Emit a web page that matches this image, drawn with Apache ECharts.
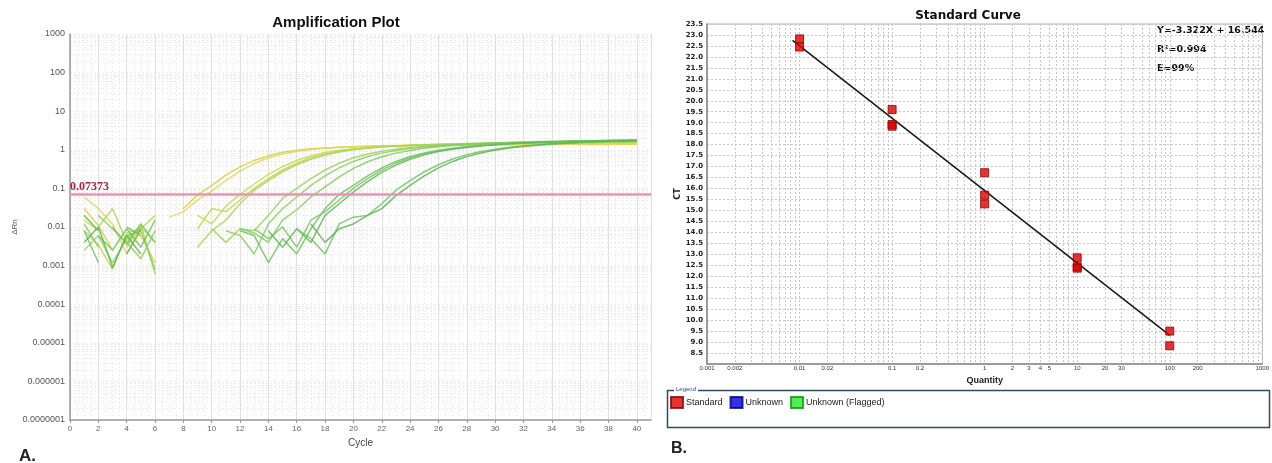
<!DOCTYPE html>
<html><head><meta charset="utf-8">
<script src="https://cdn.jsdelivr.net/npm/echarts@6/dist/echarts.min.js"></script>
<style>html,body{margin:0;padding:0;background:#fff}#c{width:1272px;height:463px}</style>
</head><body><div id="c"></div>
<script>
// ---------- Amplification plot data (cycle 1..40) ----------
const cycles = [1,2,3,4,5,6,7,8,9,10,11,12,13,14,15,16,17,18,19,20,21,22,23,24,25,26,27,28,29,30,31,32,33,34,35,36,37,38,39,40];
const ampA = [0.03,0.011,0.0025,null,0.006,0.0012,null,0.03,0.068,0.12,0.22,0.36,0.53,0.7,0.86,0.98,1.06,1.12,1.17,1.2,1.23,1.25,1.27,1.29,1.3,1.31,1.32,1.33,1.34,1.35,1.35,1.36,1.36,1.37,1.37,1.38,1.38,1.38,1.39,1.39];
const ampB = [0.06,0.03,0.012,0.002,0.008,null,0.018,0.025,0.05,0.085,0.16,0.28,0.44,0.62,0.78,0.92,1.02,1.1,1.16,1.2,1.24,1.27,1.29,1.31,1.33,1.34,1.35,1.36,1.37,1.38,1.38,1.39,1.39,1.4,1.4,1.41,1.41,1.42,1.42,1.42];
const ampC = [0.015,0.008,null,0.003,0.01,0.004,null,null,0.02,0.012,0.035,0.07,0.13,0.23,0.37,0.53,0.7,0.85,0.97,1.07,1.15,1.21,1.26,1.3,1.34,1.37,1.4,1.42,1.44,1.46,1.47,1.48,1.49,1.5,1.5,1.51,1.51,1.52,1.52,1.52];
const ampD = [0.008,0.0035,0.0008,0.007,0.009,0.02,null,null,0.009,0.03,0.025,0.05,0.1,0.18,0.3,0.45,0.62,0.78,0.92,1.03,1.12,1.2,1.26,1.31,1.35,1.38,1.41,1.43,1.45,1.47,1.48,1.49,1.5,1.51,1.52,1.52,1.53,1.53,1.54,1.54];
const ampE = [null,0.01,0.03,0.004,0.012,0.0006,null,null,0.003,0.008,0.015,0.04,0.09,0.16,0.27,0.41,0.57,0.73,0.88,1.0,1.1,1.18,1.25,1.3,1.35,1.39,1.42,1.45,1.47,1.49,1.51,1.52,1.53,1.54,1.55,1.56,1.56,1.57,1.57,1.58];
const ampF = [0.0025,0.006,0.0012,0.005,0.01,null,null,null,null,0.009,0.004,0.009,0.008,0.02,0.055,0.1,0.18,0.3,0.45,0.62,0.78,0.92,1.04,1.14,1.22,1.3,1.36,1.41,1.45,1.49,1.52,1.55,1.57,1.59,1.61,1.62,1.63,1.64,1.65,1.66];
const ampG = [null,0.02,0.009,0.004,0.0015,0.008,null,null,null,null,0.008,0.006,0.002,0.012,0.03,0.06,0.12,0.21,0.34,0.5,0.67,0.82,0.96,1.08,1.18,1.27,1.34,1.4,1.45,1.5,1.54,1.57,1.6,1.62,1.64,1.66,1.67,1.68,1.69,1.7];
const ampH = [0.012,0.003,null,0.006,0.008,0.0008,null,null,null,null,null,0.009,0.007,0.004,0.015,0.028,0.06,0.11,0.2,0.33,0.49,0.66,0.82,0.96,1.09,1.2,1.29,1.37,1.44,1.5,1.55,1.59,1.63,1.66,1.68,1.7,1.72,1.73,1.74,1.75];
const ampI = [0.008,0.0012,null,0.01,0.006,null,null,null,null,null,null,0.008,0.006,0.0012,0.005,0.002,0.009,0.03,0.07,0.12,0.21,0.34,0.5,0.67,0.83,0.98,1.1,1.21,1.3,1.38,1.45,1.51,1.56,1.6,1.64,1.67,1.7,1.72,1.74,1.76];
const ampJ = [null,null,0.01,0.0035,0.012,0.004,null,null,null,null,null,null,0.009,0.005,0.01,0.003,0.015,0.025,0.05,0.1,0.18,0.3,0.45,0.62,0.79,0.94,1.07,1.19,1.29,1.37,1.44,1.5,1.55,1.6,1.64,1.67,1.7,1.73,1.75,1.77];
const ampK = [0.02,0.008,null,0.002,0.009,null,null,null,null,null,null,null,null,0.008,0.003,0.009,0.004,0.02,0.04,0.08,0.15,0.26,0.4,0.57,0.74,0.9,1.03,1.15,1.26,1.35,1.43,1.49,1.55,1.6,1.64,1.68,1.71,1.74,1.76,1.78];
const ampL = [null,0.006,0.0025,0.009,0.003,0.015,null,null,null,null,null,null,null,null,null,0.009,0.005,0.002,0.012,0.018,0.02,0.04,0.09,0.16,0.27,0.41,0.58,0.75,0.9,1.04,1.16,1.27,1.36,1.44,1.51,1.57,1.62,1.66,1.7,1.73];
const ampM = [0.004,0.01,0.0009,0.006,0.002,null,null,null,null,null,null,null,null,null,null,null,0.012,0.004,0.009,0.012,0.02,0.03,0.065,0.12,0.21,0.34,0.5,0.67,0.83,0.98,1.11,1.22,1.32,1.41,1.48,1.55,1.61,1.66,1.7,1.74];
const threshold = 0.07373;
const deltaRnLabels = ['0.0000001','0.000001','0.00001','0.0001','0.001','0.01','0.1','1','10','100','1000'];
const deltaRnDecades = [1e-7,1e-6,1e-5,1e-4,1e-3,1e-2,1e-1,1,10,100,1000];

// ---------- Standard curve data ----------
const stdQuantity = [0.01,0.01,0.1,0.1,0.1,1,1,1,10,10,10,100,100];
const stdCt = [22.82,22.45,19.6,18.92,18.84,16.72,15.7,15.3,12.84,12.43,12.37,9.5,8.83];
const fitQuantity = [0.0084,100];
const fitCt = [22.75,9.3];
const quantityLabels = [0.001,0.002,0.01,0.02,0.1,0.2,1,2,3,4,5,10,20,30,100,200,1000];
const eqLines = ['Y=-3.322X + 16.544','R²=0.994','E=99%'];

// ---------- build ----------
const ampSets = [ampA,ampB,ampC,ampD,ampE,ampF,ampG,ampH,ampI,ampJ,ampK,ampL,ampM];
const ampColors = ['#d6d23c','#e2d558','#c8d84a','#bcd44e','#acd456','#98d45c','#8ccc5e','#80cc5a','#70c25a','#74c862','#62b856','#6cc462','#5cb452'];

function logMinor(lo, hi) {
  const out = [];
  for (let e = lo; e < hi; e++) for (let m = 1; m <= 9; m++) out.push(parseFloat((m * Math.pow(10, e)).toPrecision(3)));
  out.push(Math.pow(10, hi));
  return out;
}

const series = ampSets.map((arr, i) => ({
  type: 'line', xAxisIndex: 0, yAxisIndex: 0, showSymbol: false, symbol: 'none',
  connectNulls: false, silent: true,
  lineStyle: { width: 1.5, color: ampColors[i], opacity: 0.85 },
  data: cycles.map((c, j) => [c, arr[j]]),
  z: 3
}));
series.push({
  type: 'line', xAxisIndex: 0, yAxisIndex: 0, data: [], silent: true,
  markLine: {
    symbol: 'none', silent: true,
    lineStyle: { color: '#ee8fb6', width: 2.5, type: 'solid' },
    label: { show: true, position: 'insideStartTop', formatter: String(threshold),
      fontFamily: 'Liberation Serif', fontWeight: 'bold', fontSize: 12, color: '#a8203a', distance: [0, 1] },
    data: [{ yAxis: threshold }]
  }
});
series.push({
  name: 'fit', type: 'line', xAxisIndex: 1, yAxisIndex: 1, symbol: 'none', silent: true,
  lineStyle: { color: '#1a1a1a', width: 1.6 },
  data: fitQuantity.map((q, i) => [q, fitCt[i]]), z: 3
});
series.push({
  name: 'Standard', type: 'scatter', xAxisIndex: 1, yAxisIndex: 1, symbol: 'rect', symbolSize: 8,
  itemStyle: { color: '#e00000', borderColor: '#900000', borderWidth: 1 },
  data: stdQuantity.map((q, i) => [q, stdCt[i]]), z: 4
});
series.push({ name: 'Unknown', type: 'scatter', xAxisIndex: 1, yAxisIndex: 1, symbol: 'rect',
  itemStyle: { color: '#0000e0', borderColor: '#000080', borderWidth: 1 }, data: [] });
series.push({ name: 'Unknown (Flagged)', type: 'scatter', xAxisIndex: 1, yAxisIndex: 1, symbol: 'rect',
  itemStyle: { color: '#22ee22', borderColor: '#109010', borderWidth: 1 }, data: [] });

const chart = echarts.init(document.getElementById('c'), null, { renderer: 'canvas' });
chart.setOption({
  backgroundColor: '#fff',
  animation: false,
  title: [
    { text: 'Amplification Plot', left: 331, top: 10, textAlign: 'center',
      textStyle: { fontFamily: 'Liberation Sans', fontWeight: 'bold', fontSize: 15, color: '#111' } },
    { text: 'Standard Curve', left: 963, top: 5, textAlign: 'center',
      textStyle: { fontFamily: 'DejaVu Sans', fontWeight: 'bold', fontSize: 12, color: '#111' } }
  ],
  legend: {
    left: 670, top: 396, padding: 0, itemWidth: 12, itemHeight: 11, itemGap: 7, icon: 'rect',
    data: ['Standard', 'Unknown', 'Unknown (Flagged)'],
    textStyle: { fontFamily: 'Liberation Sans', fontSize: 9, color: '#222', padding: [0, 0, 0, -2] },
    selectedMode: false
  },
  grid: [
    { left: 70, top: 34, right: 621, bottom: 43, show: false },
    { left: 707, top: 24, right: 6, bottom: 99, show: true, borderColor: '#b0b0b0', borderWidth: 1 }
  ],
  xAxis: [
    { type: 'value', gridIndex: 0, min: 0, max: 41, interval: 2,
      name: 'Cycle', nameLocation: 'middle', nameGap: 16,
      nameTextStyle: { fontFamily: 'Liberation Sans', fontSize: 10, color: '#444' },
      axisLine: { lineStyle: { color: '#999', width: 1.5 } },
      axisTick: { show: true, length: 3, lineStyle: { color: '#999' } },
      axisLabel: { fontFamily: 'Liberation Sans', fontSize: 8, color: '#666', margin: 5, showMaxLabel: false,
        formatter: v => (v % 2 === 0 ? String(v) : '') },
      splitLine: { show: true, lineStyle: { color: '#e0e0e0', width: 1 } },
      minorTick: { show: false, splitNumber: 4 },
      minorSplitLine: { show: true, lineStyle: { color: '#eeeeee', type: [2, 2], width: 1 } }
    },
    { type: 'log', gridIndex: 1, logBase: 10, min: 0.001, max: 1000,
      name: 'Quantity', nameLocation: 'middle', nameGap: 8,
      nameTextStyle: { fontFamily: 'Liberation Sans', fontWeight: 'bold', fontSize: 9, color: '#222' },
      axisLine: { lineStyle: { color: '#888', width: 1.5 } },
      axisTick: { show: false, customValues: logMinor(-3, 3) },
      axisLabel: { customValues: quantityLabels, fontFamily: 'Liberation Sans', fontSize: 6, color: '#333', margin: 1.5,
        formatter: v => String(parseFloat(Number(v).toPrecision(4))) },
      splitLine: { show: true, lineStyle: { color: '#c8c8c8', type: [2, 2], width: 1 } }
    }
  ],
  yAxis: [
    { type: 'log', gridIndex: 0, logBase: 10, min: 1e-7, max: 1000,
      name: 'ΔRn', nameLocation: 'middle', nameGap: 33, nameRotate: 90,
      nameTextStyle: { fontFamily: 'Liberation Sans', fontSize: 8, color: '#555' },
      axisLine: { show: true, lineStyle: { color: '#999', width: 1.5 } },
      axisTick: { show: false, customValues: logMinor(-7, 3) },
      axisLabel: { customValues: deltaRnDecades, fontFamily: 'Liberation Sans', fontSize: 9, color: '#555', margin: 5,
        formatter: v => deltaRnLabels[Math.round(Math.log10(v)) + 7] },
      splitLine: { show: true, lineStyle: { color: '#ececec', type: [2, 2], width: 1 } }
    },
    { type: 'value', gridIndex: 1, min: 8, max: 23.5, interval: 0.5,
      name: 'CT', nameLocation: 'middle', nameGap: 25, nameRotate: 90,
      nameTextStyle: { fontFamily: 'DejaVu Sans', fontWeight: 'bold', fontSize: 8, color: '#222' },
      axisLine: { show: true, lineStyle: { color: '#888', width: 1.5 } },
      axisTick: { show: false },
      axisLabel: { fontFamily: 'DejaVu Sans', fontWeight: 'bold', fontSize: 7, color: '#222', margin: 4,
        formatter: v => (v === 8 ? '' : v.toFixed(1)) },
      splitLine: { show: true, lineStyle: { color: '#c8c8c8', type: [2, 2], width: 1 } }
    }
  ],
  graphic: [
    { type: 'text', left: 1157, top: 26, style: { text: eqLines[0], font: 'bold 9.5px "DejaVu Sans"', fill: '#111' } },
    { type: 'text', left: 1157, top: 45, style: { text: eqLines[1], font: 'bold 9.5px "DejaVu Sans"', fill: '#111' } },
    { type: 'text', left: 1157, top: 64, style: { text: eqLines[2], font: 'bold 9.5px "DejaVu Sans"', fill: '#111' } },
    { type: 'rect', shape: { x: 667.5, y: 390.5, width: 602, height: 37 }, style: { fill: 'none', stroke: '#2e4e5e', lineWidth: 1.5 }, z: 1 },
    { type: 'text', left: 674, top: 386, z: 2, style: { text: 'Legend', font: '6px "Liberation Sans"', fill: '#1f4a9a', backgroundColor: '#fff', padding: [0, 2] } },
    { type: 'text', left: 19, top: 448, style: { text: 'A.', font: 'bold 17px "Liberation Sans"', fill: '#222' } },
    { type: 'text', left: 671, top: 441, style: { text: 'B.', font: 'bold 16px "Liberation Sans"', fill: '#222' } }
  ],
  series: series
});
</script>
</body></html>
